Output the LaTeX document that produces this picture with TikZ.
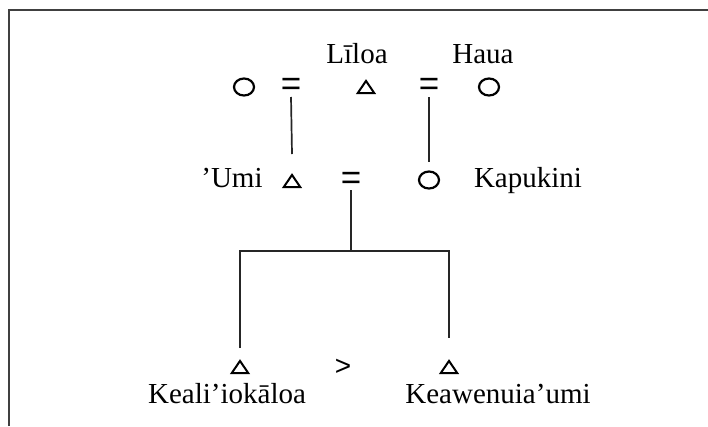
\documentclass[tikz,border=0pt]{standalone}
\usepackage{fontspec}
\setmainfont{Liberation Serif}
\setsansfont{Liberation Sans}
\usetikzlibrary{shapes.geometric}
\tikzset{
  fem/.style={ellipse, draw, line width=2.2pt, minimum width=20pt, minimum height=17pt, inner sep=0pt},
  mal/.style={regular polygon, regular polygon sides=3, draw, line width=2pt, line join=miter, minimum size=19pt, inner sep=0pt, yscale=0.85},
  eqs/.style={font=\sffamily\fontsize{35}{35}\selectfont, inner sep=0pt},
  gts/.style={font=\sffamily\fontsize{28}{28}\selectfont, inner sep=0pt},
  pname/.style={font=\fontsize{29}{29}\selectfont, inner sep=0pt, anchor=base},
  link/.style={line width=1.7pt, black!85},
  frame/.style={line width=2pt, black!75}
}
\begin{document}
\begin{tikzpicture}[x=1pt,y=-1pt]
\useasboundingbox (0,0) rectangle (708,426);
\draw[frame] (9,426) -- (9,10) -- (708,10);
% top row
\node[fem] (w1) at (244,87) {};
\node[eqs] (m1) at (291,87) {=};
\node[mal] (liloa) at (366,89) {};
\node[eqs] (m2) at (429,87) {=};
\node[fem] (haua) at (489,87) {};
\node[pname] (liloaN) at (357,63) {Līloa};
\node[pname] (hauaN) at (483,63) {Haua};
% second row
\node[mal] (umi) at (292,183) {};
\node[eqs] (m3) at (351,181) {=};
\node[fem] (kap) at (429,180) {};
\node[pname] (umiN) at (232,187) {’Umi};
\node[pname] (kapN) at (528,187) {Kapukini};
% third row
\node[mal] (k1) at (240,369) {};
\node[gts] (gt) at (343,367) {>};
\node[mal] (k2) at (449,369) {};
\node[pname] (k1N) at (227,403) {Keali’iokāloa};
\node[pname] (k2N) at (498,403) {Keawenuia’umi};
% connectors
\coordinate (bar) at (351,251);
\draw[link] ([yshift=-10pt]m1.center) -- ([yshift=29pt]umi.center);
\draw[link] ([yshift=-10pt]m2.center) -- ([yshift=18pt]kap.center);
\draw[link] ([yshift=-9pt]m3.center) -- (bar);
\draw[link] ([yshift=21pt]k1.center) -- (k1 |- bar) -- (k2 |- bar) -- ([yshift=31pt]k2.center);
\end{tikzpicture}
\end{document}
